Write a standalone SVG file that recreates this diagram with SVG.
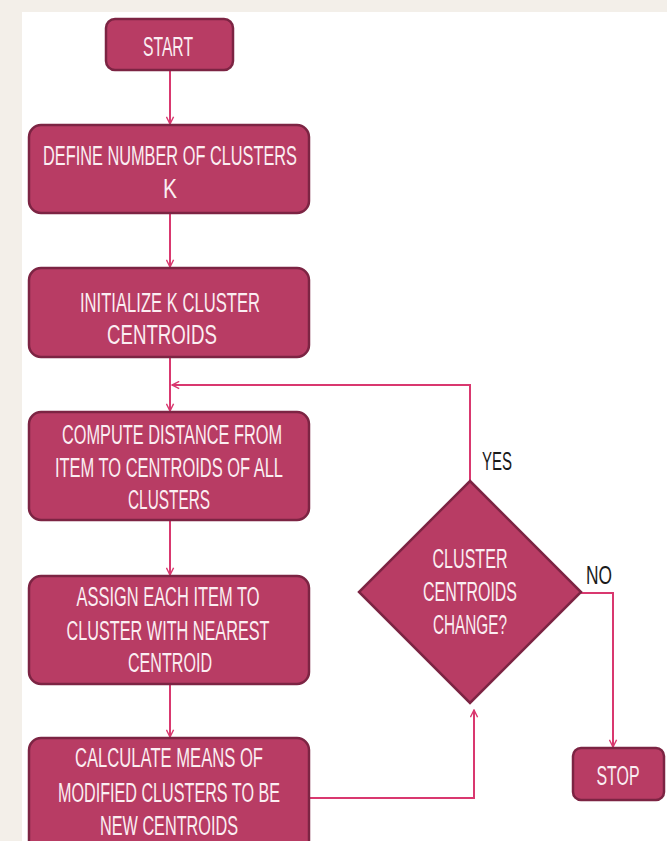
<svg xmlns="http://www.w3.org/2000/svg" width="667" height="841" viewBox="0 0 667 841">
<defs>
<style>
.box{fill:#b83c64;stroke:#7c2443;stroke-width:2.5}
.t{font-family:"Liberation Sans",Arial,sans-serif;font-size:27px;fill:#fbeef2;text-anchor:middle}
.lbl{font-family:"Liberation Sans",Arial,sans-serif;font-size:26px;fill:#1a1a1a}
.c{fill:none;stroke:#d9386f;stroke-width:2}
</style>
<marker id="ah" viewBox="0 0 10 10" refX="9" refY="5" markerWidth="9" markerHeight="9" markerUnits="userSpaceOnUse" orient="auto">
<path d="M1,1 L9,5 L1,9" fill="none" stroke="#d9386f" stroke-width="1.6"/>
</marker>
</defs>
<rect width="667" height="841" fill="#ffffff"/>
<rect x="0" y="0" width="22" height="841" fill="#f3efe9"/>
<rect x="0" y="0" width="667" height="12" fill="#f3efe9"/>

<g id="connectors">
<path class="c" d="M170,70 V124" marker-end="url(#ah)"/>
<path class="c" d="M170,213 V267" marker-end="url(#ah)"/>
<path class="c" d="M170,357 V411" marker-end="url(#ah)"/>
<path class="c" d="M470,481 V385 H172" marker-end="url(#ah)"/>
<path class="c" d="M170,520 V575" marker-end="url(#ah)"/>
<path class="c" d="M170,684 V737" marker-end="url(#ah)"/>
<path class="c" d="M309,798 H474 V710" marker-end="url(#ah)"/>
<path class="c" d="M581,593 H613 V747" marker-end="url(#ah)"/>
</g>

<g id="start">
<rect class="box" x="106" y="19" width="127" height="51" rx="9"/>
<text class="t" x="168" y="56" textLength="50" lengthAdjust="spacingAndGlyphs">START</text>
</g>

<g id="define">
<rect class="box" x="29" y="125" width="280" height="88" rx="12"/>
<text class="t" x="170" y="165" textLength="254" lengthAdjust="spacingAndGlyphs">DEFINE NUMBER OF CLUSTERS</text>
<text class="t" x="170" y="198" textLength="14" lengthAdjust="spacingAndGlyphs">K</text>
</g>

<g id="init">
<rect class="box" x="29" y="268" width="280" height="89" rx="12"/>
<text class="t" x="170" y="312" textLength="180" lengthAdjust="spacingAndGlyphs">INITIALIZE K CLUSTER</text>
<text class="t" x="162" y="344" textLength="110" lengthAdjust="spacingAndGlyphs">CENTROIDS</text>
</g>

<g id="compute">
<rect class="box" x="29" y="412" width="280" height="108" rx="12"/>
<text class="t" x="172" y="444" textLength="220" lengthAdjust="spacingAndGlyphs">COMPUTE DISTANCE FROM</text>
<text class="t" x="169" y="477" textLength="228" lengthAdjust="spacingAndGlyphs">ITEM TO CENTROIDS OF ALL</text>
<text class="t" x="169" y="509" textLength="82" lengthAdjust="spacingAndGlyphs">CLUSTERS</text>
</g>

<g id="assign">
<rect class="box" x="29" y="576" width="280" height="108" rx="12"/>
<text class="t" x="168" y="606" textLength="183" lengthAdjust="spacingAndGlyphs">ASSIGN EACH ITEM TO</text>
<text class="t" x="168" y="640" textLength="203" lengthAdjust="spacingAndGlyphs">CLUSTER WITH NEAREST</text>
<text class="t" x="170" y="672" textLength="84" lengthAdjust="spacingAndGlyphs">CENTROID</text>
</g>

<g id="calculate">
<rect class="box" x="29" y="738" width="280" height="115" rx="12"/>
<text class="t" x="169" y="767" textLength="188" lengthAdjust="spacingAndGlyphs">CALCULATE MEANS OF</text>
<text class="t" x="169" y="802" textLength="222" lengthAdjust="spacingAndGlyphs">MODIFIED CLUSTERS TO BE</text>
<text class="t" x="169" y="835" textLength="138" lengthAdjust="spacingAndGlyphs">NEW CENTROIDS</text>
</g>

<g id="decision">
<polygon class="box" points="470,481 581,592 470,703 359,592" stroke-width="1.5"/>
<text class="t" x="470" y="568" textLength="75" lengthAdjust="spacingAndGlyphs">CLUSTER</text>
<text class="t" x="470" y="601" textLength="94" lengthAdjust="spacingAndGlyphs">CENTROIDS</text>
<text class="t" x="470" y="634" textLength="74" lengthAdjust="spacingAndGlyphs">CHANGE?</text>
</g>

<g id="stop">
<rect class="box" x="573" y="748" width="91" height="52" rx="8"/>
<text class="t" x="618" y="785" textLength="43" lengthAdjust="spacingAndGlyphs">STOP</text>
</g>

<g id="labels">
<text class="lbl" x="482" y="470" textLength="30" lengthAdjust="spacingAndGlyphs">YES</text>
<text class="lbl" x="586" y="584" textLength="26" lengthAdjust="spacingAndGlyphs">NO</text>
</g>
</svg>
